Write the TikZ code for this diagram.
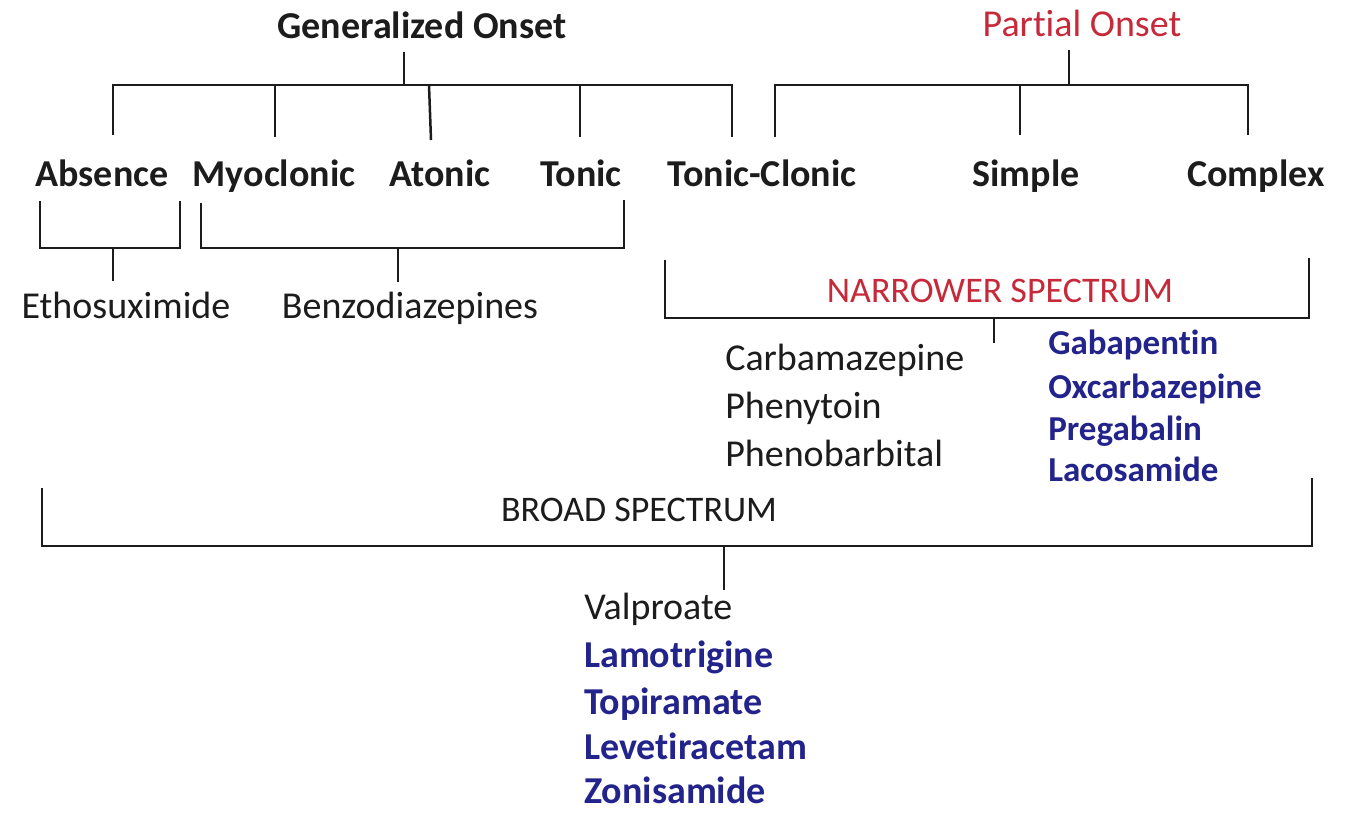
\documentclass[tikz,border=0pt]{standalone}
\usepackage{fontspec}
\setmainfont[Ligatures={NoCommon}]{Carlito}
\definecolor{myred}{HTML}{C62A3A}
\definecolor{myblue}{HTML}{23238C}
\definecolor{ink}{HTML}{1C1C1C}
\begin{document}
\begin{tikzpicture}[x=1pt,y=-1pt,line width=2.5pt,
  conn/.style={draw=ink},
  head/.style={font=\fontsize{38}{44}\selectfont\bfseries,text=ink,inner sep=0pt,anchor=base},
  phead/.style={font=\fontsize{38}{44}\selectfont,text=myred,inner sep=0pt,anchor=base},
  cat/.style={font=\fontsize{38}{44}\selectfont\bfseries,text=ink,inner sep=0pt,anchor=base},
  drug/.style={font=\fontsize{38}{44}\selectfont,text=ink,inner sep=0pt,anchor=base west},
  cdrug/.style={font=\fontsize{38}{44}\selectfont,text=ink,inner sep=0pt,anchor=base},
  bdrug/.style={font=\fontsize{38}{44}\selectfont\bfseries,text=myblue,inner sep=0pt,anchor=base west},
  nbdrug/.style={font=\fontsize{35}{40}\selectfont\bfseries,text=myblue,inner sep=0pt,anchor=base west},
  spec/.style={font=\fontsize{36}{40}\selectfont,inner sep=0pt,anchor=base}]
\useasboundingbox[fill=white] (0,0) rectangle (1356,814);

% headings
\node[head] (gen) at (422,38) {Generalized Onset};
\node[phead] (par) at (1082,36) {Partial Onset};

% seizure types
\node[cat] (abs) at (102,186) {Absence};
\node[cat] (myo) at (274,186) {Myoclonic};
\node[cat] (ato) at (440,186) {Atonic};
\node[cat] (ton) at (581,186) {Tonic};
\node[cat] (tcl) at (762,186) {Tonic-Clonic};
\node[cat] (sim) at (1026,186) {Simple};
\node[cat] (com) at (1256,186) {Complex};

% drugs for generalized subtypes
\node[cdrug] (eth) at (126,318) {Ethosuximide};
\node[cdrug] (ben) at (410,318) {Benzodiazepines};

% narrower spectrum
\node[spec,text=myred] (nar) at (1000,302) {NARROWER SPECTRUM};
\node[drug] (carb) at (724,370) {Carbamazepine};
\node[drug] (phe) at (724,418) {Phenytoin};
\node[drug] (phb) at (724,466) {Phenobarbital};
\node[nbdrug] (gab) at (1047,354) {Gabapentin};
\node[nbdrug] (oxc) at (1047,398) {Oxcarbazepine};
\node[nbdrug] (pre) at (1047,440) {Pregabalin};
\node[nbdrug] (lac) at (1047,481) {Lacosamide};

% broad spectrum
\node[spec,text=ink] (bro) at (639,521) {BROAD SPECTRUM};
\node[drug] (val) at (583,619) {Valproate};
\node[bdrug] (lam) at (583,667) {Lamotrigine};
\node[bdrug] (top) at (583,714) {Topiramate};
\node[bdrug] (lev) at (583,759) {Levetiracetam};
\node[bdrug] (zon) at (583,803) {Zonisamide};

% ---- generalized tree
\coordinate (gs) at (404,52);
\coordinate (gj) at (404,85);
\coordinate (g1t) at (113,85);  \coordinate (g1b) at (113,135);
\coordinate (g2t) at (275,85);  \coordinate (g2b) at (275,137);
\coordinate (g3t) at (429,85);  \coordinate (g3b) at (431,140);
\coordinate (g4t) at (580,85);  \coordinate (g4b) at (580,137);
\coordinate (g5t) at (732,85);  \coordinate (g5b) at (732,137);
\draw[conn] (gs) -- (gj);
\draw[conn] (g1b) -- (g1t) -- (g5t) -- (g5b);
\draw[conn] (g2t) -- (g2b);
\draw[conn] (g3t) -- (g3b);
\draw[conn] (g4t) -- (g4b);

% ---- partial tree
\coordinate (ps) at (1069,50);
\coordinate (pj) at (1069,85);
\coordinate (p1t) at (775,85);  \coordinate (p1b) at (775,137);
\coordinate (p2t) at (1020,85); \coordinate (p2b) at (1020,135);
\coordinate (p3t) at (1248,85); \coordinate (p3b) at (1248,135);
\draw[conn] (ps) -- (pj);
\draw[conn] (p1b) -- (p1t) -- (p3t) -- (p3b);
\draw[conn] (p2t) -- (p2b);

% ---- absence bracket
\coordinate (a1) at (40,201);  \coordinate (a2) at (40,248);
\coordinate (a3) at (180,248); \coordinate (a4) at (180,201);
\coordinate (aj) at (113,248); \coordinate (ae) at (113,281);
\draw[conn] (a1) -- (a2) -- (a3) -- (a4);
\draw[conn] (aj) -- (ae);

% ---- myoclonic..tonic bracket
\coordinate (m1) at (201,203); \coordinate (m2) at (201,248);
\coordinate (m3) at (624,248); \coordinate (m4) at (624,200);
\coordinate (mj) at (398,248); \coordinate (me) at (398,282);
\draw[conn] (m1) -- (m2) -- (m3) -- (m4);
\draw[conn] (mj) -- (me);

% ---- narrower bracket
\coordinate (n1) at (665,260);  \coordinate (n2) at (665,318);
\coordinate (n3) at (1309,318); \coordinate (n4) at (1309,258);
\coordinate (nj) at (994,318);  \coordinate (ne) at (994,343);
\draw[conn] (n1) -- (n2) -- (n3) -- (n4);
\draw[conn] (nj) -- (ne);

% ---- broad bracket
\coordinate (b1) at (42,488);   \coordinate (b2) at (42,546);
\coordinate (b3) at (1312,546); \coordinate (b4) at (1312,478);
\coordinate (bj) at (724,546);  \coordinate (be) at (724,590);
\draw[conn] (b1) -- (b2) -- (b3) -- (b4);
\draw[conn] (bj) -- (be);
\end{tikzpicture}
\end{document}
